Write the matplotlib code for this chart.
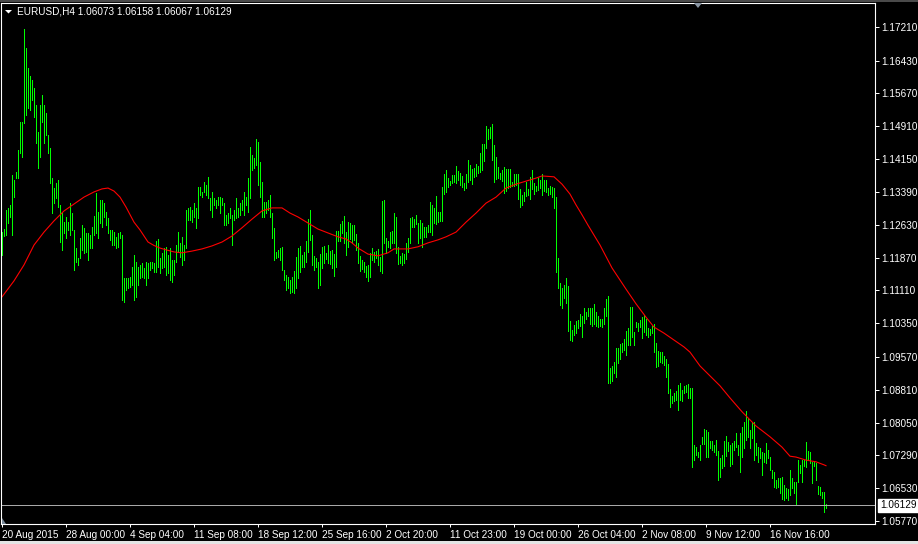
import numpy as np
import matplotlib
matplotlib.use("Agg")
import matplotlib.pyplot as plt
from matplotlib.patches import Polygon, Rectangle
from matplotlib.transforms import IdentityTransform

# EURUSD H4 bars, 20 Aug 2015 .. 20 Nov 2015
symbol = "EURUSD,H4"
last_ohlc = [1.06073, 1.06158, 1.06067, 1.06129]

highs = [
    1.1246, 1.1253, 1.1297, 1.1302, 1.1309, 1.1378, 1.1367, 1.1385, 1.1436, 1.1501,
    1.1501, 1.1716, 1.1672, 1.1626, 1.1608, 1.1598, 1.1580, 1.1540, 1.1478, 1.1540,
    1.1564, 1.1540, 1.1522, 1.1471, 1.1441, 1.1371, 1.1348, 1.1360, 1.1367, 1.1309,
    1.1290, 1.1269, 1.1281, 1.1269, 1.1313, 1.1290, 1.1251, 1.1209, 1.1186, 1.1232,
    1.1262, 1.1256, 1.1244, 1.1244, 1.1239, 1.1258, 1.1283, 1.1337, 1.1293, 1.1320,
    1.1320, 1.1313, 1.1293, 1.1279, 1.1251, 1.1251, 1.1246, 1.1235, 1.1244, 1.1246,
    1.1239, 1.1140, 1.1140, 1.1140, 1.1142, 1.1165, 1.1193, 1.1177, 1.1165, 1.1170,
    1.1175, 1.1163, 1.1177, 1.1175, 1.1177, 1.1177, 1.1175, 1.1225, 1.1230, 1.1186,
    1.1198, 1.1209, 1.1212, 1.1193, 1.1209, 1.1181, 1.1181, 1.1216, 1.1246, 1.1221,
    1.1235, 1.1216, 1.1297, 1.1302, 1.1304, 1.1297, 1.1313, 1.1302, 1.1351, 1.1351,
    1.1339, 1.1362, 1.1355, 1.1374, 1.1325, 1.1339, 1.1325, 1.1320, 1.1327, 1.1327,
    1.1325, 1.1313, 1.1286, 1.1290, 1.1302, 1.1286, 1.1297, 1.1325, 1.1302, 1.1313,
    1.1320, 1.1339, 1.1327, 1.1371, 1.1443, 1.1425, 1.1418, 1.1462, 1.1455, 1.1408,
    1.1362, 1.1316, 1.1316, 1.1320, 1.1332, 1.1290, 1.1256, 1.1200, 1.1205, 1.1209,
    1.1212, 1.1158, 1.1147, 1.1142, 1.1135, 1.1142, 1.1156, 1.1188, 1.1209, 1.1214,
    1.1193, 1.1200, 1.1225, 1.1276, 1.1297, 1.1239, 1.1191, 1.1186, 1.1177, 1.1195,
    1.1212, 1.1214, 1.1198, 1.1216, 1.1202, 1.1205, 1.1195, 1.1249, 1.1249, 1.1265,
    1.1272, 1.1283, 1.1246, 1.1269, 1.1267, 1.1262, 1.1262, 1.1242, 1.1221, 1.1191,
    1.1181, 1.1177, 1.1168, 1.1170, 1.1198, 1.1209, 1.1200, 1.1202, 1.1207, 1.1188,
    1.1318, 1.1320, 1.1232, 1.1225, 1.1246, 1.1249, 1.1290, 1.1281, 1.1212, 1.1191,
    1.1198, 1.1195, 1.1221, 1.1232, 1.1279, 1.1281, 1.1276, 1.1286, 1.1267, 1.1274,
    1.1267, 1.1258, 1.1258, 1.1262, 1.1316, 1.1309, 1.1302, 1.1330, 1.1293, 1.1293,
    1.1351, 1.1381, 1.1390, 1.1371, 1.1364, 1.1378, 1.1378, 1.1399, 1.1388, 1.1383,
    1.1376, 1.1360, 1.1381, 1.1413, 1.1401, 1.1392, 1.1395, 1.1404, 1.1399, 1.1429,
    1.1450, 1.1450, 1.1492, 1.1485, 1.1489, 1.1496, 1.1448, 1.1420, 1.1397, 1.1383,
    1.1390, 1.1397, 1.1392, 1.1392, 1.1392, 1.1362, 1.1381, 1.1381, 1.1381, 1.1346,
    1.1332, 1.1339, 1.1362, 1.1346, 1.1374, 1.1390, 1.1360, 1.1353, 1.1371, 1.1367,
    1.1381, 1.1367, 1.1367, 1.1348, 1.1353, 1.1351, 1.1348, 1.1327, 1.1186, 1.1128,
    1.1117, 1.1124, 1.1140, 1.1121, 1.1040, 1.1019, 1.1031, 1.1040, 1.1043, 1.1056,
    1.1052, 1.1070, 1.1061, 1.1070, 1.1070, 1.1070, 1.1080, 1.1061, 1.1052, 1.1045,
    1.1045, 1.1070, 1.1091, 1.1098, 1.0931, 1.0936, 1.0945, 1.0978, 1.0978, 1.0987,
    1.0989, 1.0998, 1.1017, 1.1024, 1.1073, 1.1073, 1.1015, 1.1038, 1.1036, 1.1043,
    1.1049, 1.1054, 1.1045, 1.1024, 1.1022, 1.1029, 1.1033, 1.0989, 1.0971, 1.0968,
    1.0968, 1.0959, 1.0952, 1.0941, 1.0883, 1.0866, 1.0873, 1.0878, 1.0892, 1.0897,
    1.0880, 1.0890, 1.0892, 1.0894, 1.0885, 1.0885, 1.0753, 1.0748, 1.0737, 1.0753,
    1.0772, 1.0790, 1.0788, 1.0783, 1.0762, 1.0762, 1.0753, 1.0765, 1.0739, 1.0723,
    1.0730, 1.0762, 1.0774, 1.0760, 1.0753, 1.0758, 1.0762, 1.0781, 1.0753, 1.0781,
    1.0795, 1.0806, 1.0832, 1.0816, 1.0788, 1.0806, 1.0806, 1.0758, 1.0748, 1.0746,
    1.0737, 1.0734, 1.0758, 1.0741, 1.0725, 1.0695, 1.0690, 1.0672, 1.0677, 1.0677,
    1.0679, 1.0660, 1.0653, 1.0651, 1.0695, 1.0677, 1.0667, 1.0667, 1.0718, 1.0707,
    1.0718, 1.0718, 1.0760, 1.0739, 1.0737, 1.0714, 1.0714, 1.0711, 1.0658, 1.0656,
    1.0644, 1.0644, 1.06158,
]

lows = [
    1.1193, 1.1237, 1.1239, 1.1267, 1.1281, 1.1239, 1.1327, 1.1371, 1.1371, 1.1429,
    1.1420, 1.1499, 1.1517, 1.1533, 1.1529, 1.1552, 1.1513, 1.1452, 1.1395, 1.1420,
    1.1501, 1.1452, 1.1471, 1.1429, 1.1360, 1.1290, 1.1313, 1.1325, 1.1304, 1.1223,
    1.1205, 1.1244, 1.1232, 1.1251, 1.1239, 1.1251, 1.1158, 1.1177, 1.1170, 1.1186,
    1.1205, 1.1198, 1.1200, 1.1181, 1.1209, 1.1209, 1.1239, 1.1244, 1.1232, 1.1267,
    1.1258, 1.1281, 1.1262, 1.1244, 1.1228, 1.1216, 1.1216, 1.1209, 1.1212, 1.1232,
    1.1089, 1.1084, 1.1112, 1.1117, 1.1119, 1.1124, 1.1089, 1.1096, 1.1124, 1.1140,
    1.1142, 1.1140, 1.1124, 1.1140, 1.1158, 1.1163, 1.1154, 1.1154, 1.1165, 1.1151,
    1.1163, 1.1165, 1.1147, 1.1151, 1.1135, 1.1131, 1.1147, 1.1177, 1.1200, 1.1188,
    1.1170, 1.1181, 1.1209, 1.1274, 1.1274, 1.1269, 1.1281, 1.1256, 1.1279, 1.1332,
    1.1327, 1.1339, 1.1332, 1.1325, 1.1297, 1.1281, 1.1309, 1.1302, 1.1309, 1.1290,
    1.1309, 1.1262, 1.1262, 1.1267, 1.1279, 1.1216, 1.1274, 1.1279, 1.1281, 1.1286,
    1.1297, 1.1286, 1.1309, 1.1293, 1.1325, 1.1390, 1.1395, 1.1401, 1.1355, 1.1327,
    1.1281, 1.1281, 1.1290, 1.1297, 1.1281, 1.1232, 1.1181, 1.1186, 1.1188, 1.1181,
    1.1158, 1.1135, 1.1112, 1.1117, 1.1105, 1.1107, 1.1105, 1.1117, 1.1140, 1.1154,
    1.1165, 1.1165, 1.1177, 1.1200, 1.1228, 1.1170, 1.1158, 1.1165, 1.1117, 1.1124,
    1.1163, 1.1175, 1.1184, 1.1175, 1.1172, 1.1163, 1.1144, 1.1165, 1.1225, 1.1225,
    1.1244, 1.1221, 1.1193, 1.1212, 1.1230, 1.1221, 1.1228, 1.1205, 1.1175, 1.1156,
    1.1161, 1.1154, 1.1142, 1.1133, 1.1142, 1.1181, 1.1177, 1.1186, 1.1170, 1.1156,
    1.1151, 1.1221, 1.1198, 1.1212, 1.1209, 1.1221, 1.1221, 1.1198, 1.1172, 1.1175,
    1.1170, 1.1175, 1.1184, 1.1200, 1.1221, 1.1258, 1.1258, 1.1265, 1.1221, 1.1232,
    1.1212, 1.1235, 1.1235, 1.1246, 1.1246, 1.1239, 1.1267, 1.1265, 1.1269, 1.1272,
    1.1272, 1.1334, 1.1339, 1.1351, 1.1355, 1.1360, 1.1362, 1.1360, 1.1367, 1.1355,
    1.1351, 1.1344, 1.1348, 1.1362, 1.1367, 1.1357, 1.1374, 1.1376, 1.1383, 1.1385,
    1.1390, 1.1411, 1.1441, 1.1462, 1.1464, 1.1413, 1.1362, 1.1369, 1.1371, 1.1369,
    1.1364, 1.1337, 1.1341, 1.1348, 1.1351, 1.1353, 1.1353, 1.1355, 1.1323, 1.1304,
    1.1309, 1.1318, 1.1330, 1.1332, 1.1323, 1.1346, 1.1334, 1.1341, 1.1344, 1.1348,
    1.1332, 1.1341, 1.1339, 1.1332, 1.1334, 1.1327, 1.1302, 1.1154, 1.1117, 1.1077,
    1.1070, 1.1093, 1.1082, 1.1017, 1.0996, 1.0994, 1.1008, 1.1012, 1.1024, 1.1029,
    1.1003, 1.1036, 1.1045, 1.1052, 1.1033, 1.1029, 1.1033, 1.1029, 1.1026, 1.1029,
    1.1026, 1.1033, 1.1052, 1.0897, 1.0897, 1.0901, 1.0920, 1.0910, 1.0943, 1.0952,
    1.0968, 1.0973, 1.0961, 1.0985, 1.0985, 1.1003, 1.0985, 1.1026, 1.1017, 1.1026,
    1.1001, 1.1015, 1.1008, 1.1003, 1.1008, 1.1012, 1.0968, 1.0934, 1.0936, 1.0945,
    1.0943, 1.0938, 1.0910, 1.0873, 1.0841, 1.0850, 1.0855, 1.0857, 1.0834, 1.0857,
    1.0855, 1.0873, 1.0876, 1.0862, 1.0862, 1.0702, 1.0718, 1.0730, 1.0725, 1.0718,
    1.0755, 1.0755, 1.0725, 1.0725, 1.0746, 1.0741, 1.0737, 1.0730, 1.0672, 1.0679,
    1.0700, 1.0704, 1.0728, 1.0739, 1.0704, 1.0709, 1.0741, 1.0748, 1.0730, 1.0690,
    1.0725, 1.0746, 1.0765, 1.0772, 1.0746, 1.0769, 1.0718, 1.0730, 1.0714, 1.0723,
    1.0684, 1.0714, 1.0711, 1.0723, 1.0695, 1.0677, 1.0656, 1.0653, 1.0656, 1.0642,
    1.0628, 1.0626, 1.0630, 1.0626, 1.0637, 1.0653, 1.0642, 1.0614, 1.0667, 1.0688,
    1.0667, 1.0704, 1.0702, 1.0721, 1.0711, 1.0665, 1.0704, 1.0672, 1.0640, 1.0637,
    1.0630, 1.0598, 1.06067,
]

# moving average (red line), sampled at these bar numbers
ma_idx = [0, 6, 11, 16, 21, 26, 31, 36, 41, 46, 50, 53, 56, 59, 62, 66, 69, 73, 76, 79,
          82, 86, 90, 95, 100, 105, 110, 115, 120, 125, 130, 135, 140, 144, 148, 153, 158,
          163, 168, 172, 175, 178, 183, 188, 193, 196, 203, 208, 213, 218, 222, 227, 232,
          237, 242, 247, 252, 257, 262, 267, 270, 276, 280, 284, 287, 290, 293, 299, 305,
          312, 317, 322, 326, 331, 336, 341, 344, 349, 354, 359, 364, 370, 377, 384, 390,
          394, 397, 402, 407, 411, 412]
ma_vals = [1.1096, 1.1133, 1.1170, 1.1216, 1.1246, 1.1272, 1.1295, 1.1311, 1.1327, 1.1339,
           1.1346, 1.1348, 1.1341, 1.1327, 1.1304, 1.1269, 1.1251, 1.1223, 1.1215, 1.1209,
           1.1205, 1.1200, 1.1198, 1.1202, 1.1207, 1.1214, 1.1223, 1.1237, 1.1256, 1.1276,
           1.1295, 1.1302, 1.1302, 1.1290, 1.1281, 1.1267, 1.1253, 1.1244, 1.1235, 1.1230,
           1.1221, 1.1209, 1.1195, 1.1191, 1.1198, 1.1207, 1.1207, 1.1212, 1.1221, 1.1228,
           1.1235, 1.1246, 1.1269, 1.1290, 1.1313, 1.1327, 1.1348, 1.1357, 1.1364, 1.1371,
           1.1376, 1.1374, 1.1357, 1.1334, 1.1309, 1.1286, 1.1262, 1.1216, 1.1163, 1.1114,
           1.1080, 1.1049, 1.1026, 1.1012, 1.0996, 1.0980, 1.0968, 1.0936, 1.0913, 1.0890,
           1.0862, 1.0830, 1.0797, 1.0772, 1.0748, 1.0727, 1.0725, 1.0718, 1.0714, 1.0707,
           1.0705]

price_ticks = [1.17210, 1.16430, 1.15670, 1.14910, 1.14150, 1.13390, 1.12630, 1.11870,
               1.11110, 1.10350, 1.09570, 1.08810, 1.08050, 1.07290, 1.06530, 1.05770]

date_idx = [0, 32, 64, 96, 128, 160, 192, 224, 256, 288, 320, 352, 384]
date_labels = ["20 Aug 2015", "28 Aug 00:00", "4 Sep 04:00", "11 Sep 08:00",
               "18 Sep 12:00", "25 Sep 16:00", "2 Oct 20:00", "11 Oct 23:00",
               "19 Oct 00:00", "26 Oct 04:00", "2 Nov 08:00", "9 Nov 12:00",
               "16 Nov 16:00"]

plt.rcParams['font.family'] = ['Liberation Sans', 'DejaVu Sans']

W, H = 918, 544
fig = plt.figure(figsize=(W / 100, H / 100), dpi=100, facecolor="black")
ax = fig.add_axes([1 / W, 20 / H, 874 / W, 521 / H])
ax.set_facecolor("black")

x = np.arange(len(highs))
ax.vlines(x, lows, highs, colors="#00ff00", linewidth=0.72, antialiased=False)
ax.plot(ma_idx, ma_vals, color="#ff0000", linewidth=0.8)

# bid line
ax.axhline(last_ohlc[3], color="#a8a8a8", linewidth=0.72)

ax.set_xlim(-0.5, 436.5)
ax.set_ylim(1.05700, 1.17765)

for s in ax.spines.values():
    s.set_color("white")
    s.set_linewidth(0.8)

ax.yaxis.tick_right()
ax.set_yticks(price_ticks)
ax.set_yticklabels([f"{p:.5f}" for p in price_ticks])
ax.tick_params(axis="y", direction="out", length=3, width=0.72, colors="white",
               labelsize=7.2, pad=1.5)

ax.set_xticks(date_idx)
ax.set_xticklabels(date_labels)
ax.tick_params(axis="x", direction="out", length=2.5, width=0.72, colors="white",
               labelsize=7.2, pad=2)
for lab in ax.get_xticklabels():
    lab.set_horizontalalignment("left")

# current price box
ax.annotate(f"{last_ohlc[3]:.5f}", xy=(1, last_ohlc[3]), xycoords=ax.get_yaxis_transform(),
            xytext=(3.5, 0), textcoords="offset points", ha="left", va="center",
            fontsize=7.2, color="black",
            bbox=dict(boxstyle="square,pad=0.15", facecolor="white", edgecolor="white"))

# header
fig.text(17 / W, 1 - 11.5 / H,
         symbol + " " + " ".join(f"{v:.5f}" for v in last_ohlc),
         color="white", fontsize=7.2, va="center", ha="left")

px = IdentityTransform()
fig.add_artist(Polygon([(5, H - 10), (12, H - 10), (8.5, H - 13.5)], closed=True,
                       facecolor="white", edgecolor="none", transform=px))
# chart shift marker and small corner marker
fig.add_artist(Polygon([(694, H - 3), (702, H - 3), (698, H - 8)], closed=True,
                       facecolor="#8a96a4", edgecolor="none", transform=px))
fig.add_artist(Polygon([(2, H - 518), (2, H - 524), (6, H - 524)], closed=True,
                       facecolor="#7a8a9a", edgecolor="none", transform=px))
# window edges
fig.add_artist(Rectangle((0, H - 1.5), W, 1.5, facecolor="#4a4a4a", edgecolor="none",
                         transform=px))
fig.add_artist(Rectangle((0, 0), W, 3, facecolor="#e4e4e4", edgecolor="none",
                         transform=px))

fig.savefig("out.png", dpi=100, facecolor="black")
